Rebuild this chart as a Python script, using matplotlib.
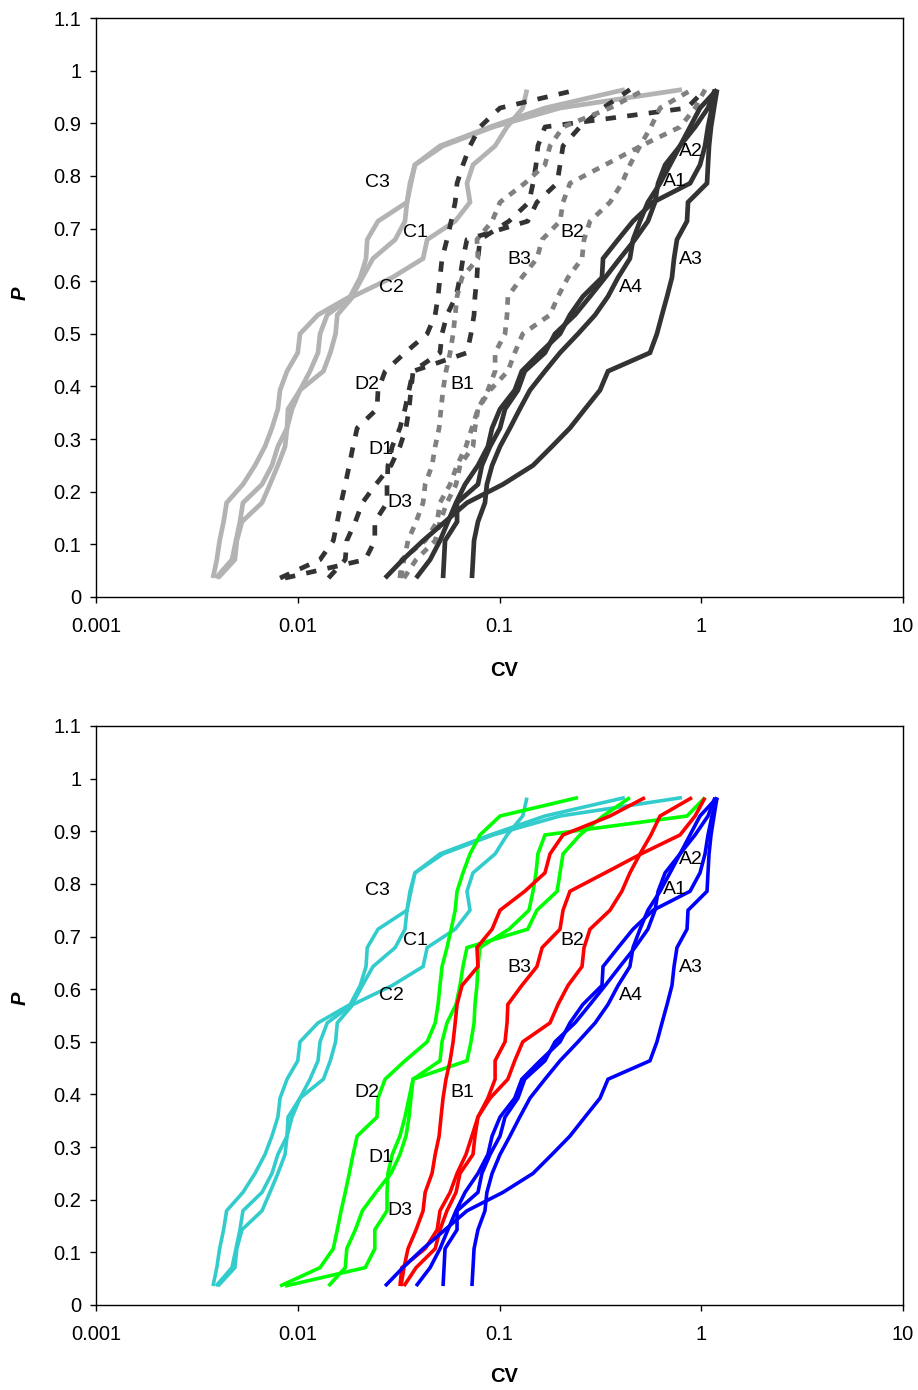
import matplotlib
matplotlib.use("Agg")
import matplotlib.pyplot as plt
from matplotlib.ticker import FixedLocator, FixedFormatter, NullLocator

plt.rcParams['font.family'] = ['Liberation Sans', 'DejaVu Sans']

# plotting positions (27 ranked values per curve)
P = [0.036, 0.071, 0.107, 0.143, 0.179, 0.214, 0.25, 0.286, 0.321, 0.357,
     0.393, 0.429, 0.464, 0.5, 0.536, 0.571, 0.607, 0.643, 0.679, 0.714,
     0.75, 0.786, 0.821, 0.857, 0.893, 0.929, 0.964]

# CV values
A1 = [0.0525, 0.0531, 0.0537, 0.0616, 0.0616, 0.0782, 0.0818, 0.0898, 0.1006, 0.1065,
      0.1234, 0.1334, 0.168, 0.1885, 0.2367, 0.281, 0.334, 0.395, 0.469, 0.544,
      0.590, 0.611, 0.662, 0.785, 0.932, 1.08, 1.17]
A2 = [0.0386, 0.0453, 0.0507, 0.0555, 0.0609, 0.0675, 0.0782, 0.0876, 0.0919, 0.1006,
      0.119, 0.129, 0.159, 0.1995, 0.2235, 0.259, 0.322, 0.326, 0.387, 0.459,
      0.577, 0.88, 0.986, 1.044, 1.08, 1.13, 1.197]
A3 = [0.0271, 0.0332, 0.0418, 0.0537, 0.0690, 0.104, 0.1466, 0.182, 0.2235, 0.265,
      0.315, 0.345, 0.557, 0.603, 0.639, 0.677, 0.716, 0.733, 0.758, 0.850,
      0.860, 1.068, 1.08, 1.093, 1.118, 1.157, 1.197]
A4 = [0.0730, 0.0739, 0.0748, 0.0782, 0.0847, 0.0866, 0.0919, 0.1006, 0.1127, 0.126,
      0.1416, 0.168, 0.1995, 0.245, 0.298, 0.345, 0.387, 0.443, 0.459, 0.497,
      0.544, 0.625, 0.70, 0.785, 0.88, 0.986, 1.197]

B1 = [0.0325, 0.0336, 0.0352, 0.0386, 0.0418, 0.0428, 0.0463, 0.048, 0.0502, 0.0513,
      0.0525, 0.0543, 0.0569, 0.0589, 0.0603, 0.0616, 0.0652, 0.0782, 0.0773, 0.0919,
      0.1006, 0.1334, 0.168, 0.178, 0.2065, 0.353, 0.526]
B2 = [0.0336, 0.0386, 0.048, 0.0507, 0.0549, 0.0609, 0.0637, 0.0739, 0.0756, 0.0782,
      0.0898, 0.110, 0.119, 0.1304, 0.178, 0.195, 0.2185, 0.2564, 0.2624, 0.281,
      0.353, 0.404, 0.443, 0.497, 0.563, 0.625, 0.90]
B3 = [0.0321, 0.0328, 0.0428, 0.0491, 0.0507, 0.0569, 0.0616, 0.0682, 0.0730, 0.0782,
      0.0876, 0.0951, 0.0951, 0.1065, 0.109, 0.110, 0.129, 0.1533, 0.1627, 0.1995,
      0.2065, 0.2235, 0.334, 0.503, 0.785, 0.932, 1.044]

C1 = [0.00393, 0.00472, 0.00494, 0.00517, 0.00535, 0.00665, 0.00745, 0.00797, 0.00885, 0.00895,
      0.01026, 0.0115, 0.0126, 0.0129, 0.0140, 0.0186, 0.0209, 0.0236, 0.0304, 0.0340,
      0.0348, 0.0364, 0.0381, 0.0507, 0.0898, 0.168, 0.418]
C2 = [0.00402, 0.00488, 0.00499, 0.00529, 0.00665, 0.00728, 0.00797, 0.00865, 0.00885, 0.00937,
      0.01026, 0.0134, 0.0145, 0.0154, 0.0157, 0.0188, 0.0294, 0.0418, 0.0438, 0.0603,
      0.0714, 0.0690, 0.0739, 0.0951, 0.109, 0.1304, 0.1368]
C3 = [0.0038, 0.00397, 0.0041, 0.00429, 0.00444, 0.00535, 0.00614, 0.00688, 0.00745, 0.00797,
      0.00817, 0.00885, 0.0100, 0.01026, 0.0126, 0.0182, 0.0204, 0.0218, 0.0221, 0.0250,
      0.0348, 0.036, 0.0381, 0.0525, 0.093, 0.1995, 0.803]

D1 = [0.0142, 0.0172, 0.0175, 0.0193, 0.0209, 0.0244, 0.0290, 0.0321, 0.0344, 0.0356,
      0.0364, 0.0373, 0.0507, 0.0519, 0.0549, 0.0609, 0.0637, 0.0659, 0.0690, 0.138,
      0.1533, 0.193, 0.1995, 0.2065, 0.2506, 0.326, 0.443]
D2 = [0.00817, 0.0129, 0.0150, 0.0157, 0.0164, 0.0172, 0.0180, 0.0188, 0.0197, 0.0247,
      0.0250, 0.0271, 0.0340, 0.0438, 0.048, 0.0496, 0.0507, 0.0519, 0.0549, 0.0576,
      0.0603, 0.0616, 0.0659, 0.0714, 0.080, 0.1006, 0.245]
D3 = [0.00865, 0.0216, 0.0241, 0.0241, 0.0277, 0.0277, 0.0280, 0.0294, 0.0321, 0.0340,
      0.0356, 0.0373, 0.0690, 0.0722, 0.0748, 0.0756, 0.0773, 0.0782, 0.080, 0.1115,
      0.140, 0.1466, 0.1517, 0.155, 0.168, 0.850, 1.044]

curves = {"C1": C1, "C2": C2, "C3": C3, "D1": D1, "D2": D2, "D3": D3,
          "B1": B1, "B2": B2, "B3": B3, "A1": A1, "A2": A2, "A3": A3, "A4": A4}

# label anchor positions (CV, P)
label_pos = {"C3": (0.0247, 0.788), "C1": (0.0381, 0.693), "C2": (0.029, 0.588),
             "D2": (0.022, 0.404), "B1": (0.0652, 0.404), "D1": (0.0259, 0.281),
             "D3": (0.0321, 0.180), "B3": (0.125, 0.642), "B2": (0.229, 0.693),
             "A2": (0.89, 0.847), "A1": (0.741, 0.790), "A3": (0.89, 0.642),
             "A4": (0.449, 0.588)}

# grey print style (top) and colour style (bottom), keyed by curve family
grey_style = {
    "A": dict(color="#333333", lw=3.4, ls="-"),
    "B": dict(color="#808080", lw=3.4, ls=(0, (1.6, 1.6))),
    "C": dict(color="#b3b3b3", lw=3.4, ls="-"),
    "D": dict(color="#333333", lw=3.4, ls=(0, (2.2, 2.4))),
}
colour_style = {
    "A": dict(color="#0000ff", lw=2.6, ls="-"),
    "B": dict(color="#ff0000", lw=2.6, ls="-"),
    "C": dict(color="#33cccc", lw=2.6, ls="-"),
    "D": dict(color="#00ff00", lw=2.6, ls="-"),
}

FS = 14.5


def panel(ax, styles):
    for name, cv in curves.items():
        st = styles[name[0]]
        ax.plot(cv, P, color=st["color"], lw=st["lw"], ls=st["ls"],
                solid_capstyle="butt", dash_capstyle="butt", solid_joinstyle="miter")
    for name, (x, y) in label_pos.items():
        ax.text(x, y, name, fontsize=FS - 0.5, ha="center", va="center")
    ax.set_xscale("log")
    ax.set_xlim(0.001, 10)
    ax.set_ylim(0, 1.1)
    ax.xaxis.set_major_locator(FixedLocator([0.001, 0.01, 0.1, 1, 10]))
    ax.xaxis.set_major_formatter(FixedFormatter(["0.001", "0.01", "0.1", "1", "10"]))
    ax.xaxis.set_minor_locator(NullLocator())
    yt = [i / 10 for i in range(12)]
    ax.yaxis.set_major_locator(FixedLocator(yt))
    ax.yaxis.set_major_formatter(FixedFormatter(["0", "0.1", "0.2", "0.3", "0.4", "0.5", "0.6",
                                                 "0.7", "0.8", "0.9", "1", "1.1"]))
    ax.tick_params(direction="out", length=4.5, width=1, labelsize=FS)
    ax.tick_params(axis="x", pad=10)
    ax.tick_params(axis="y", pad=6)
    for s in ax.spines.values():
        s.set_linewidth(1)


fig = plt.figure(figsize=(9.18, 13.9), dpi=100)
W, H = 918, 1390
ax1 = fig.add_axes([96 / W, 1 - 597 / H, 807 / W, 579 / H])
ax2 = fig.add_axes([96 / W, 1 - 1305 / H, 807 / W, 579 / H])
panel(ax1, grey_style)
panel(ax2, colour_style)

for yc in (670, 1377):
    fig.text(504 / W, 1 - yc / H, "CV", fontsize=FS, weight="bold", ha="center", va="center")
for yc in (293, 998):
    fig.text(20 / W, 1 - yc / H, "P", fontsize=FS, weight="bold", style="italic",
             rotation=90, ha="center", va="center")

fig.savefig("out.png", dpi=100)
